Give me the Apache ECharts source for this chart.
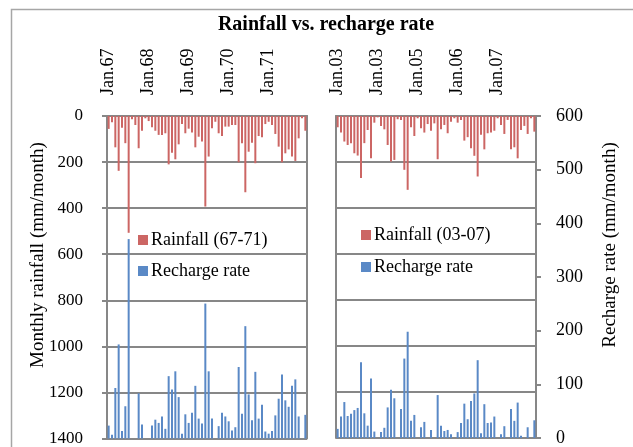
<!DOCTYPE html>
<html>
<head>
<meta charset="utf-8">
<script src="https://cdn.jsdelivr.net/npm/echarts@6/dist/echarts.min.js"></script>
<style>html,body{margin:0;padding:0;background:#fff;}#c{width:633px;height:447px;}</style>
</head>
<body>
<div id="c"></div>
<script>
// ---- data ----
const yearsLeft = [1967, 1968, 1969, 1970, 1971];
const yearsRight = [2003, 2004, 2005, 2006, 2007];
const monthNums = ['01','02','03','04','05','06','07','08','09','10','11','12'];
const tickLabelsLeft = ['Jan.67', 'Jan.68', 'Jan.69', 'Jan.70', 'Jan.71'];
const tickLabelsRight = ['Jan.03', 'Jan.03', 'Jan.05', 'Jan.06', 'Jan.07'];

const rainfallLeft = [
  56, 27, 136, 238, 51, 118, 507, 14, 39, 140, 64, 10,
  22, 49, 64, 82, 82, 75, 210, 159, 188, 123, 35, 75,
  55, 72, 136, 90, 111, 393, 176, 53, 25, 75, 87, 46,
  46, 39, 39, 201, 118, 331, 155, 116, 205, 87, 92, 35,
  25, 39, 78, 133, 201, 162, 145, 176, 195, 97, 10, 64
];
const rechargeLeft = [
  24, 7, 94, 175, 14, 60, 371, 0, 0, 84, 26, 0,
  0, 24, 35, 29, 41, 18, 116, 91, 125, 77, 9, 45,
  29, 48, 98, 37, 28, 251, 125, 37, 0, 23, 48, 41,
  32, 15, 21, 133, 46, 209, 82, 34, 124, 37, 63, 13,
  9, 14, 43, 74, 119, 71, 59, 98, 110, 41, 0, 44
];
const rainfallRight = [
  49, 72, 111, 126, 118, 162, 172, 270, 118, 61, 184, 29,
  6, 43, 58, 126, 198, 191, 14, 17, 234, 321, 49, 87,
  10, 53, 72, 35, 64, 32, 188, 58, 39, 75, 25, 10,
  29, 17, 107, 92, 140, 173, 263, 82, 145, 75, 72, 64,
  10, 39, 78, 17, 145, 136, 184, 61, 43, 78, 10, 68
];
const rechargeRight = [
  17, 40, 67, 41, 45, 52, 56, 141, 46, 23, 111, 12,
  0, 11, 19, 57, 90, 74, 0, 54, 148, 198, 32, 43,
  0, 20, 30, 0, 15, 0, 80, 23, 13, 15, 7, 0,
  11, 28, 64, 35, 69, 83, 145, 9, 63, 28, 29, 40,
  0, 7, 22, 0, 54, 32, 66, 4, 0, 20, 0, 33
];

function buildMonths(years) {
  const out = [];
  years.forEach(y => monthNums.forEach(m => out.push(y + '-' + m)));
  return out;
}
const monthsLeft = buildMonths(yearsLeft);
const monthsRight = buildMonths(yearsRight);

// ---- style ----
const FONT = 'Liberation Serif, Times New Roman, serif';
const AXIS_GRAY = '#878787';
const RED = '#cc6664';
const BLUE = '#5a89c6';

function xAxisFor(grid, cats, ticks) {
  return {
    gridIndex: grid, type: 'category', position: 'top', data: cats,
    boundaryGap: true,
    axisLine: { show: true, lineStyle: { color: AXIS_GRAY, width: 2 } },
    axisTick: { show: false },
    splitLine: { show: false },
    axisLabel: {
      interval: (i) => i % 12 === 0,
      rotate: 90, margin: 21,
      fontFamily: FONT, fontSize: 18, color: '#000',
      formatter: (v, i) => ticks[Math.floor(i / 12)]
    }
  };
}
const plainNum = (v) => String(v);

const option = {
  animation: false,
  backgroundColor: '#fff',
  title: {
    text: 'Rainfall vs. recharge rate',
    left: 321, top: 10, textAlign: 'center',
    textStyle: { fontFamily: FONT, fontSize: 20, fontWeight: 'bold', color: '#000' }
  },
  legend: [
    {
      data: ['Rainfall (67-71)', 'Recharge rate'],
      left: 138, top: 231, orient: 'vertical', padding: 0,
      itemWidth: 10, itemHeight: 10, itemGap: 13, icon: 'rect',
      selectedMode: false,
      textStyle: { fontFamily: FONT, fontSize: 18, color: '#000', padding: [0, 0, 0, -2] }
    },
    {
      data: ['Rainfall (03-07)', 'Recharge rate'],
      left: 361, top: 226, orient: 'vertical', padding: 0,
      itemWidth: 10, itemHeight: 10, itemGap: 14, icon: 'rect',
      selectedMode: false,
      textStyle: { fontFamily: FONT, fontSize: 18, color: '#000', padding: [0, 0, 0, -2] }
    }
  ],
  grid: [
    { left: 107, top: 116, width: 200, height: 323 },
    { left: 336, top: 116, width: 200, height: 323 }
  ],
  xAxis: [
    xAxisFor(0, monthsLeft, tickLabelsLeft),
    xAxisFor(1, monthsRight, tickLabelsRight)
  ],
  yAxis: [
    {
      gridIndex: 0, type: 'value', inverse: true, min: 0, max: 1400, interval: 200, position: 'left',
      axisLine: { show: true, lineStyle: { color: AXIS_GRAY, width: 2 } },
      axisTick: { show: true, length: 5, lineStyle: { color: AXIS_GRAY, width: 2 } },
      splitLine: { show: true, lineStyle: { color: AXIS_GRAY, width: 2 } },
      axisLabel: { fontFamily: FONT, fontSize: 17, color: '#000', margin: 24, formatter: plainNum }
    },
    {
      gridIndex: 0, type: 'value', min: 0, max: 600, interval: 100, position: 'right',
      axisLine: { show: true, lineStyle: { color: AXIS_GRAY, width: 2 } },
      axisTick: { show: false }, axisLabel: { show: false }, splitLine: { show: false }
    },
    {
      gridIndex: 1, type: 'value', inverse: true, min: 0, max: 1400, interval: 200, position: 'left',
      axisLine: { show: true, lineStyle: { color: AXIS_GRAY, width: 2 } },
      axisTick: { show: false }, axisLabel: { show: false },
      splitLine: { show: true, lineStyle: { color: AXIS_GRAY, width: 2 } }
    },
    {
      gridIndex: 1, type: 'value', min: 0, max: 600, interval: 100, position: 'right',
      axisLine: { show: true, lineStyle: { color: AXIS_GRAY, width: 2 } },
      axisTick: { show: true, length: 5, lineStyle: { color: AXIS_GRAY, width: 2 } },
      splitLine: { show: false },
      axisLabel: { fontFamily: FONT, fontSize: 18, color: '#000', margin: 20, formatter: plainNum }
    }
  ],
  series: [
    { type: 'bar', name: 'Rainfall (67-71)', xAxisIndex: 0, yAxisIndex: 0, data: rainfallLeft,
      barWidth: 2, barGap: '-100%', itemStyle: { color: RED } },
    { type: 'bar', name: 'Recharge rate', xAxisIndex: 0, yAxisIndex: 1, data: rechargeLeft,
      barWidth: 2, barGap: '-100%', itemStyle: { color: BLUE } },
    { type: 'bar', name: 'Rainfall (03-07)', xAxisIndex: 1, yAxisIndex: 2, data: rainfallRight,
      barWidth: 2, barGap: '-100%', itemStyle: { color: RED } },
    { type: 'bar', name: 'Recharge rate', xAxisIndex: 1, yAxisIndex: 3, data: rechargeRight,
      barWidth: 2, barGap: '-100%', itemStyle: { color: BLUE } }
  ],
  graphic: [
    { type: 'rect', shape: { x: 11.5, y: 9.5, width: 700, height: 500 },
      style: { fill: 'none', stroke: '#a6a6a6', lineWidth: 1.5 }, silent: true },
    { type: 'text', x: 38, y: 255, rotation: Math.PI / 2,
      style: { text: 'Monthly rainfall (mm/month)', font: '19px ' + FONT, fill: '#000',
               textAlign: 'center', textVerticalAlign: 'middle' } },
    { type: 'text', x: 610, y: 245, rotation: Math.PI / 2,
      style: { text: 'Recharge rate (mm/month)', font: '19px ' + FONT, fill: '#000',
               textAlign: 'center', textVerticalAlign: 'middle' } }
  ]
};

const chart = echarts.init(document.getElementById('c'), null, { renderer: 'canvas' });
chart.setOption(option);
</script>
</body>
</html>
